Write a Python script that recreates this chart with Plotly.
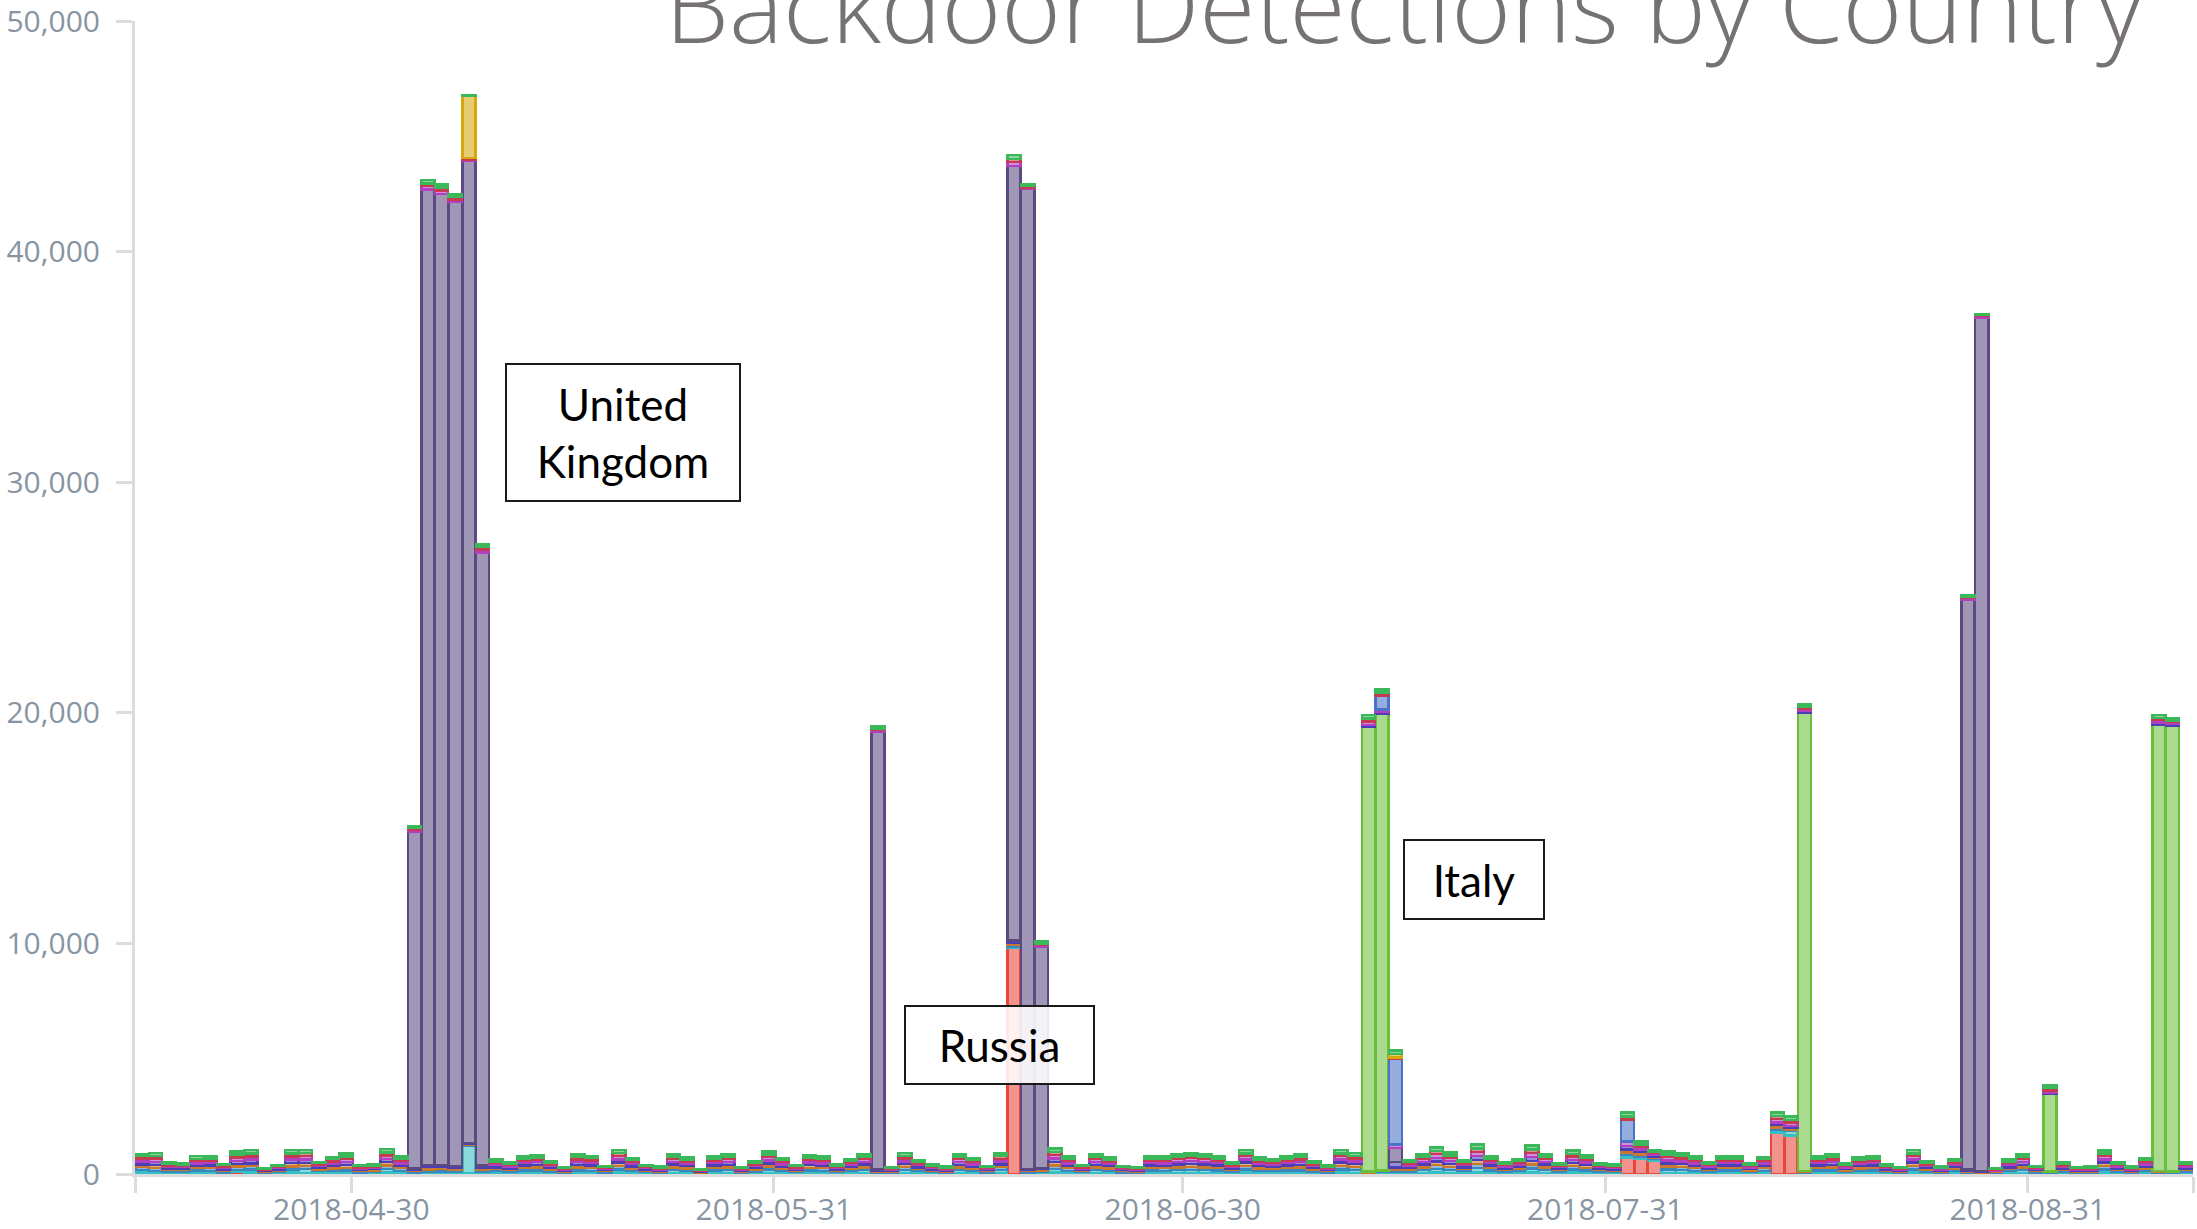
import plotly.graph_objects as go
import pandas as pd

# ---------------- data ----------------
dates = pd.date_range("2018-04-15", "2018-09-12", freq="D").strftime("%Y-%m-%d").tolist()

tick_labels = ["2018-04-30", "2018-05-31", "2018-06-30", "2018-07-31", "2018-08-31"]

russia = [60,40,30,20,40,30,20,80,60,20, 30,60,50,50,40,30,20,30,60,40,
          20,30,40,30,20,30,30,20,50,40, 30,20,40,30,20,60,40,20,20,50,
          40,10,40,50,20,30,50,30,20,40, 40,20,30,50,20,20,50,30,20,20,
          50,40,20,50,9800,20,20,60,40,20, 50,40,20,20,50,40,50,50,50,50,
          30,60,40,30,50,40,30,20,60,50, 10,10,20,30,50,60,50,30,70,50,
          20,30,70,50,30,60,40,30,20,720, 650,580,50,50,40,20,50,40,30,40,
          1800,1670,20,40,40,30,40,50,20,20, 60,30,20,30,20,10,20,30,50,20,
          20,30,20,20,60,20,20,40,20,20,20]

india = [120,100,60,80,120,110,50,100,130,30, 60,140,160,70,90,120,50,60,160,100,
         40,80,70,60,1200,70,90,80,110,120, 70,40,120,110,50,140,90,60,40,120,
         100,30,110,120,40,80,140,100,60,120, 100,60,90,120,40,40,130,90,60,40,
         120,100,50,120,60,50,60,150,100,60, 120,100,50,40,110,100,120,130,120,110,
         70,140,100,90,110,120,70,50,140,130, 30,80,80,80,120,160,130,90,180,110,
         80,90,170,120,70,140,120,70,60,100, 100,60,140,130,100,80,110,110,60,100,
         100,200,40,110,120,60,100,110,60,40, 140,70,50,90,40,30,30,90,120,50,
         30,70,40,40,140,80,40,100,40,30,80]

united_states = [140,120,80,90,100,120,60,140,150,40, 50,130,140,80,110,120,60,60,150,110,
                 60,90,100,90,40,90,90,70,110,120, 80,40,120,120,50,150,100,60,50,120,
                 100,30,110,120,40,80,140,100,50,110, 110,60,100,120,50,40,130,90,60,50,
                 120,90,50,130,80,50,70,160,110,50, 120,100,50,40,110,110,120,130,120,110,
                 70,150,100,100,110,120,80,60,150,130, 30,30,80,90,120,170,130,90,180,110,
                 70,90,170,120,70,140,110,70,60,120, 100,60,140,130,110,70,110,110,70,110,
                 110,60,30,110,120,70,100,110,60,40, 150,80,40,90,50,30,40,90,120,50,
                 30,70,40,50,150,70,50,90,40,30,70]

brazil = [100,140,70,50,110,100,70,120,120,40, 60,140,120,70,100,130,50,60,140,110,
          50,100,90,80,40,80,80,70,100,110, 80,40,110,110,50,140,100,50,40,120,
          100,30,100,110,40,70,130,90,50,110, 100,60,90,120,40,40,120,80,60,40,
          110,90,50,120,80,50,60,150,100,50, 110,100,50,40,100,100,120,120,120,100,
          60,140,100,90,100,110,80,50,140,120, 30,30,100,80,120,150,130,80,170,100,
          70,90,160,120,60,130,110,60,60,120, 100,60,130,120,100,70,100,110,60,100,
          110,80,30,110,110,60,100,100,60,40, 140,80,40,90,40,30,30,80,110,50,
          30,60,40,40,140,70,40,90,40,30,70]

china = [130,120,60,70,90,120,60,130,160,40, 50,150,150,70,100,120,60,50,140,100,
         60,100,100,90,40,90,90,80,110,120, 80,40,120,110,50,140,100,60,50,120,
         100,30,110,120,40,80,130,100,60,120, 110,60,90,120,50,40,120,90,60,50,
         120,100,50,120,100,50,60,150,110,60, 120,100,50,40,110,110,120,130,120,110,
         70,140,100,90,110,120,80,50,140,120, 80,80,250,80,120,160,130,90,180,110,
         80,90,170,120,70,140,120,70,60,150, 110,70,130,120,110,80,110,110,70,100,
         120,80,70,110,120,60,100,110,60,40, 140,80,50,90,50,40,40,90,120,50,
         70,70,40,50,140,80,50,100,80,60,80]

france = [120,150,70,50,120,90,70,150,140,30, 60,140,160,70,110,130,50,60,150,120,
          90,140,140,120,60,120,90,70,110,110, 80,40,120,110,50,150,90,50,40,120,
          100,30,110,120,40,80,140,100,50,120, 110,60,100,120,70,40,130,80,60,40,
          120,100,50,120,160,60,70,150,110,50, 120,100,50,40,110,110,120,130,120,110,
          70,150,100,100,110,120,80,50,150,130, 140,120,150,80,120,160,130,80,180,110,
          70,90,170,120,60,140,120,60,60,200, 120,80,140,130,110,70,110,110,60,110,
          150,140,90,110,120,60,100,110,60,40, 150,80,50,90,70,60,40,90,120,50,
          100,70,40,40,140,70,40,100,110,80,70]

turkey = [100,110,60,40,80,100,50,120,130,40, 40,140,130,60,90,110,50,50,130,90,
          80,120,130,110,50,100,70,60,90,90, 70,30,100,100,40,130,80,50,40,110,
          90,30,90,100,40,60,110,80,50,90, 80,50,70,110,60,30,110,70,50,40,
          100,80,40,110,140,60,60,130,80,50, 100,90,40,30,90,80,110,110,110,90,
          60,120,90,70,90,100,70,50,120,110, 130,120,80,70,110,140,110,70,150,90,
          60,80,150,110,60,120,90,60,50,140, 100,60,110,100,80,60,90,90,50,80,
          130,120,80,90,100,50,90,90,50,40, 120,70,40,80,60,50,30,70,100,40,
          90,60,30,40,120,60,40,80,100,70,60]

vietnam = [100,130,60,60,110,100,50,140,160,30, 50,140,140,60,100,120,50,60,150,110,
           100,140,130,120,50,120,80,70,100,110, 70,40,110,100,40,140,90,50,40,110,
           90,30,100,110,40,70,130,90,50,110, 100,60,90,110,70,40,120,80,60,40,
           110,90,40,110,180,60,100,150,100,50, 110,90,40,40,100,100,110,120,110,100,
           60,140,90,90,100,110,70,50,140,120, 150,130,140,70,110,160,130,80,180,100,
           70,90,170,110,60,140,110,60,50,160, 120,70,130,120,100,70,100,100,60,100,
           150,140,90,110,110,60,90,100,50,40, 140,70,40,90,70,50,30,80,110,40,
           110,60,40,40,140,70,40,90,120,80,70]

# spike countries (only the days on which they show up)
united_kingdom = {"2018-05-05": 14600, "2018-05-06": 42300, "2018-05-07": 42100,
                  "2018-05-08": 41800, "2018-05-09": 42600, "2018-05-10": 26600,
                  "2018-06-08": 19000, "2018-06-18": 33600, "2018-06-19": 42500,
                  "2018-06-20": 9600, "2018-07-16": 600,
                  "2018-08-27": 24700, "2018-08-28": 37000}
italy = {"2018-07-14": 19300, "2018-07-15": 19800, "2018-08-15": 19900,
         "2018-09-02": 3350, "2018-09-10": 19350, "2018-09-11": 19350}
spain = {"2018-07-15": 600, "2018-07-16": 3700, "2018-08-02": 950}
germany = {"2018-05-09": 2700, "2018-07-16": 150}

# ---------------- styles ----------------
def sparse(d):
    return [d.get(x) for x in dates]

series = [
    ("Russia", russia, "#e8463a"),
    ("India", india, "#35bfc4"),
    ("United States", united_states, "#3a86bf"),
    ("Brazil", brazil, "#c9792c"),
    ("Italy", sparse(italy), "#6abf3a"),
    ("China", china, "#4b3fb8"),
    ("United Kingdom", sparse(united_kingdom), "#5b4a80"),
    ("France", france, "#b23fc0"),
    ("Spain", sparse(spain), "#4a72c9"),
    ("Turkey", turkey, "#c63a52"),
    ("Germany", sparse(germany), "#d6a80a"),
    ("Vietnam", vietnam, "#3bb85a"),
]

def rgba(hexcol, a):
    h = hexcol.lstrip("#")
    r, g, b = int(h[0:2], 16), int(h[2:4], 16), int(h[4:6], 16)
    return f"rgba({r},{g},{b},{a})"

fig = go.Figure()
for name, vals, col in series:
    fig.add_trace(go.Bar(
        x=dates, y=vals, name=name,
        marker=dict(color=rgba(col, 0.58), line=dict(color=col, width=2.5)),
    ))

tick_offset = pd.Timedelta(hours=9)
x_start = pd.Timestamp(dates[0]) - pd.Timedelta(hours=12)
x_end = pd.Timestamp(dates[-1]) + pd.Timedelta(hours=12)
tickvals = [x_start] + [pd.Timestamp(t) + tick_offset for t in tick_labels] + [x_end]
ticktext = [""] + tick_labels + [""]

axis_col = "#dcdcdc"
label_col = "#8795a3"

fig.update_layout(
    width=2197, height=1229,
    barmode="stack", bargap=0.04,
    showlegend=False,
    plot_bgcolor="white", paper_bgcolor="white",
    margin=dict(l=135, r=4, t=21, b=55, autoexpand=False),
    font=dict(family="Open Sans", color=label_col),
    xaxis=dict(
        type="date", range=[x_start, x_end],
        tickmode="array", tickvals=tickvals, ticktext=ticktext,
        ticks="outside", ticklen=16, tickwidth=3, tickcolor=axis_col,
        showline=True, linecolor=axis_col, linewidth=3,
        showgrid=False, zeroline=False, automargin=False,
        ticklabeloverflow="allow", ticklabelstandoff=-9,
        tickfont=dict(family="Open Sans", size=30, color=label_col),
    ),
    yaxis=dict(
        range=[0, 50000], tickmode="array",
        tickvals=[0, 10000, 20000, 30000, 40000, 50000],
        tickformat=",",
        ticks="outside", ticklen=16, tickwidth=3, tickcolor=axis_col,
        showline=True, linecolor=axis_col, linewidth=3,
        showgrid=False, zeroline=False, automargin=False,
        ticklabeloverflow="allow", ticklabelstandoff=10,
        tickfont=dict(family="Open Sans", size=30, color=label_col),
    ),
)

fig.add_annotation(
    text="Backdoor Detections by Country",
    xref="paper", yref="paper", x=0.617, y=0.953,
    xanchor="center", yanchor="bottom", showarrow=False,
    font=dict(family="Open Sans", size=102, color="#767272", weight=300),
)

boxes = [
    ("United<br>Kingdom", 0.2370, 0.6430, 232, 135),
    ("Russia", 0.4203, 0.1119, 187, 76),
    ("Italy", 0.6508, 0.2554, 138, 77),
]
for txt, bx, by, w, h in boxes:
    fig.add_annotation(
        text=txt, xref="paper", yref="paper", x=bx, y=by,
        xanchor="center", yanchor="middle", showarrow=False,
        width=w, height=h, align="center", valign="middle",
        bgcolor="rgba(255,255,255,0.88)", bordercolor="#1a1a1a",
        borderwidth=2, borderpad=0,
        font=dict(family="Lato", size=44, color="black"),
    )

fig.write_html("out.html",
               config={"displayModeBar": False},
               post_script="document.body.style.margin='0';document.body.style.overflow='hidden';")
